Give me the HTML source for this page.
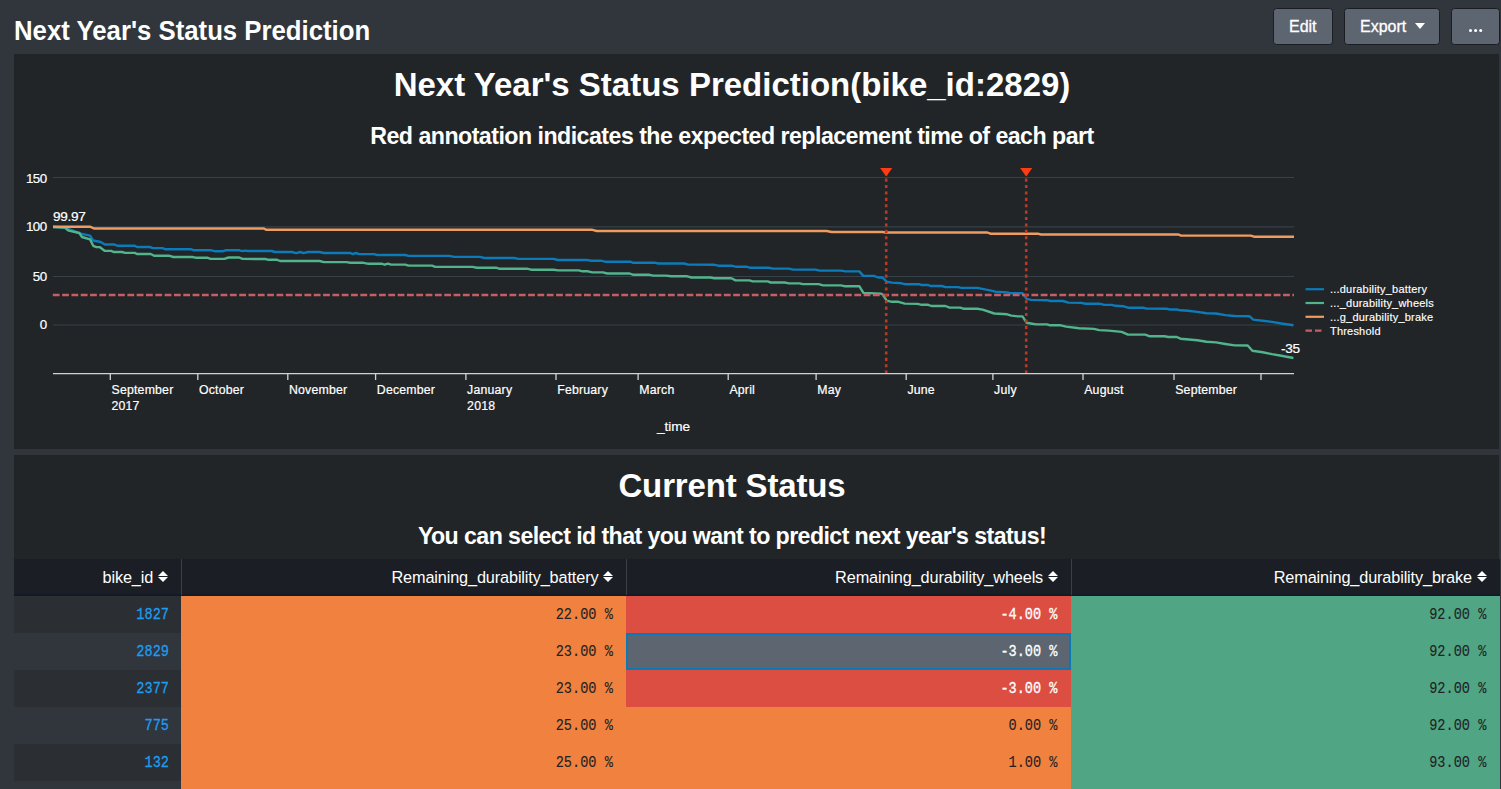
<!DOCTYPE html>
<html><head><meta charset="utf-8">
<style>
*{margin:0;padding:0;box-sizing:border-box}
html,body{width:1501px;height:789px;overflow:hidden;background:#31353c;font-family:"Liberation Sans",sans-serif;color:#fff}
body{position:relative}
.abs{position:absolute;white-space:nowrap}
#htitle{left:13.8px;top:16px;font-size:27.2px;font-weight:bold;line-height:30px;transform:scaleX(0.947);transform-origin:0 0}
.btn{position:absolute;top:8px;height:36.5px;background:#5d6570;border:1.3px solid #1a1e23;border-radius:3.5px;color:#fff;font-size:16px;line-height:35.5px;text-align:center;-webkit-text-stroke:0.3px #fff}
.panel{position:absolute;left:14px;width:1485px;background:#212527}
#p1{top:54px;height:395px}
#p2{top:455px;height:334px}
.ctitle{position:absolute;font-weight:bold;text-align:center;left:0;width:1464px}
.th{font-size:16.3px;line-height:36px;color:#fff;letter-spacing:-0.14px}
.sort{display:inline-block;width:10.4px;height:12px;margin-left:5px;vertical-align:0.5px;position:relative}
.sort:before{content:"";position:absolute;left:0;top:0;border-left:5.2px solid transparent;border-right:5.2px solid transparent;border-bottom:5.3px solid #fff}
.sort:after{content:"";position:absolute;left:0;top:6.6px;border-left:5.2px solid transparent;border-right:5.2px solid transparent;border-top:5.3px solid #fff}
.td{line-height:37px;font-size:13.6px;transform:scaleY(1.17);transform-origin:50% 62%}
.id{font-family:"Liberation Mono",monospace;color:#1e9cf0;-webkit-text-stroke:0.25px currentColor}
.mono{font-family:"Liberation Mono",monospace;-webkit-text-stroke:0.25px currentColor}
</style></head>
<body>
<div id="htitle" class="abs">Next Year's Status Prediction</div>
<div class="btn" style="left:1272.5px;width:60.5px">Edit</div>
<div class="btn" style="left:1344.3px;width:96px">Export <span style="display:inline-block;width:0;height:0;border-left:5px solid transparent;border-right:5px solid transparent;border-top:6px solid #fff;vertical-align:middle;margin-left:4px;margin-top:-3px"></span></div>
<div class="btn" style="left:1451px;width:48.5px"><span style="position:absolute;left:16.8px;top:20.4px;width:3.1px;height:3.1px;border-radius:50%;background:#fff;box-shadow:5.1px 0 0 #fff,10.2px 0 0 #fff"></span></div>

<div class="panel" id="p1"></div>
<div class="panel" id="p2"></div>

<div class="ctitle abs" id="t1" style="top:66px;font-size:33px;line-height:38px">Next Year's Status Prediction(bike_id:2829)</div>
<div class="ctitle abs" id="t2" style="top:122.8px;font-size:23.2px;line-height:26px;letter-spacing:-0.53px">Red annotation indicates the expected replacement time of each part</div>
<div class="ctitle abs" id="t3" style="top:467px;font-size:33px;line-height:38px;letter-spacing:-0.15px">Current Status</div>
<div class="ctitle abs" id="t4" style="top:522.8px;font-size:23.2px;line-height:26px;letter-spacing:-0.59px">You can select id that you want to predict next year's status!</div>
<svg class="abs" style="left:0;top:0" width="1501" height="789" font-family="Liberation Sans, sans-serif">
<line x1="53" y1="177.5" x2="1294" y2="177.5" stroke="#35424a" stroke-width="1.2"/>
<line x1="53" y1="226.8" x2="1294" y2="226.8" stroke="#35424a" stroke-width="1.2"/>
<line x1="53" y1="276.5" x2="1294" y2="276.5" stroke="#35424a" stroke-width="1.2"/>
<line x1="53" y1="325" x2="1294" y2="325" stroke="#35424a" stroke-width="1.2"/>
<line x1="53" y1="373.7" x2="1294" y2="373.7" stroke="#cfd3d7" stroke-width="1.3"/>
<line x1="110.3" y1="373.7" x2="110.3" y2="380" stroke="#cfd3d7" stroke-width="1.3"/>
<line x1="197.8" y1="373.7" x2="197.8" y2="380" stroke="#cfd3d7" stroke-width="1.3"/>
<line x1="287.8" y1="373.7" x2="287.8" y2="380" stroke="#cfd3d7" stroke-width="1.3"/>
<line x1="375.6" y1="373.7" x2="375.6" y2="380" stroke="#cfd3d7" stroke-width="1.3"/>
<line x1="465.9" y1="373.7" x2="465.9" y2="380" stroke="#cfd3d7" stroke-width="1.3"/>
<line x1="556" y1="373.7" x2="556" y2="380" stroke="#cfd3d7" stroke-width="1.3"/>
<line x1="638.1" y1="373.7" x2="638.1" y2="380" stroke="#cfd3d7" stroke-width="1.3"/>
<line x1="728.2" y1="373.7" x2="728.2" y2="380" stroke="#cfd3d7" stroke-width="1.3"/>
<line x1="816.1" y1="373.7" x2="816.1" y2="380" stroke="#cfd3d7" stroke-width="1.3"/>
<line x1="906.2" y1="373.7" x2="906.2" y2="380" stroke="#cfd3d7" stroke-width="1.3"/>
<line x1="992.9" y1="373.7" x2="992.9" y2="380" stroke="#cfd3d7" stroke-width="1.3"/>
<line x1="1083" y1="373.7" x2="1083" y2="380" stroke="#cfd3d7" stroke-width="1.3"/>
<line x1="1174" y1="373.7" x2="1174" y2="380" stroke="#cfd3d7" stroke-width="1.3"/>
<line x1="1261" y1="373.7" x2="1261" y2="380" stroke="#cfd3d7" stroke-width="1.3"/>
<text x="46.6" y="182.6" text-anchor="end" font-size="13.3" fill="#fff" stroke="#fff" stroke-width="0.2" letter-spacing="-0.5">150</text>
<text x="46.6" y="230.9" text-anchor="end" font-size="13.3" fill="#fff" stroke="#fff" stroke-width="0.2" letter-spacing="-0.5">100</text>
<text x="46.6" y="280.7" text-anchor="end" font-size="13.3" fill="#fff" stroke="#fff" stroke-width="0.2" letter-spacing="-0.5">50</text>
<text x="46.6" y="329.09999999999997" text-anchor="end" font-size="13.3" fill="#fff" stroke="#fff" stroke-width="0.2" letter-spacing="-0.5">0</text>
<text x="111.5" y="394" font-size="12.3" fill="#fff" stroke="#fff" stroke-width="0.2" letter-spacing="0.2">September</text>
<text x="111.5" y="410.4" font-size="12.3" fill="#fff" stroke="#fff" stroke-width="0.2" letter-spacing="0.2">2017</text>
<text x="199.0" y="394" font-size="12.3" fill="#fff" stroke="#fff" stroke-width="0.2" letter-spacing="0.2">October</text>
<text x="289.0" y="394" font-size="12.3" fill="#fff" stroke="#fff" stroke-width="0.2" letter-spacing="0.2">November</text>
<text x="376.8" y="394" font-size="12.3" fill="#fff" stroke="#fff" stroke-width="0.2" letter-spacing="0.2">December</text>
<text x="467.09999999999997" y="394" font-size="12.3" fill="#fff" stroke="#fff" stroke-width="0.2" letter-spacing="0.2">January</text>
<text x="467.09999999999997" y="410.4" font-size="12.3" fill="#fff" stroke="#fff" stroke-width="0.2" letter-spacing="0.2">2018</text>
<text x="557.2" y="394" font-size="12.3" fill="#fff" stroke="#fff" stroke-width="0.2" letter-spacing="0.2">February</text>
<text x="639.3000000000001" y="394" font-size="12.3" fill="#fff" stroke="#fff" stroke-width="0.2" letter-spacing="0.2">March</text>
<text x="729.4000000000001" y="394" font-size="12.3" fill="#fff" stroke="#fff" stroke-width="0.2" letter-spacing="0.2">April</text>
<text x="817.3000000000001" y="394" font-size="12.3" fill="#fff" stroke="#fff" stroke-width="0.2" letter-spacing="0.2">May</text>
<text x="907.4000000000001" y="394" font-size="12.3" fill="#fff" stroke="#fff" stroke-width="0.2" letter-spacing="0.2">June</text>
<text x="994.1" y="394" font-size="12.3" fill="#fff" stroke="#fff" stroke-width="0.2" letter-spacing="0.2">July</text>
<text x="1084.2" y="394" font-size="12.3" fill="#fff" stroke="#fff" stroke-width="0.2" letter-spacing="0.2">August</text>
<text x="1175.2" y="394" font-size="12.3" fill="#fff" stroke="#fff" stroke-width="0.2" letter-spacing="0.2">September</text>
<text x="673.5" y="431.2" text-anchor="middle" font-size="13.6" fill="#fff" stroke="#fff" stroke-width="0.2">_time</text>
<polyline points="53,227 64.7,227.5 80.7,233.7 90,235.7 93.2,240.5 100.7,242 104.9,244.5 114.5,244.5 117.7,245.8 134.8,245.8 136.9,247 149.7,247 152.9,248.1 162.5,248.1 165.7,249.3 191.3,249.3 193.4,250.2 210.5,250.2 214.7,251.2 223.3,251.2 225.4,250.3 239.3,250.3 242.5,251.1 244.6,250.6 248.2,251 271.7,251 274.9,252 291.9,252 296.2,253.1 300.4,252 303.6,253.1 307.9,252 319.6,252 323.9,253 350.5,253 352.7,254.1 355.9,253 359.1,254.1 374,254.1 377.2,255 405.3,255 408.5,255.9 449,255.9 454.4,256.9 480,256.9 484.2,258 514.1,258 518.3,258.9 553.5,258.9 557.8,260 587,260 591.2,260.7 600.8,260.7 605.1,261.7 630.7,261.7 632.8,262.8 655.2,262.8 658.4,263.5 684,263.5 688.3,264.6 714.3,264.8 718.5,265.7 731.3,265.7 735.6,266.7 746.2,266.7 750.5,267.8 768.6,267.8 772.9,268.6 788.9,268.6 793.2,269.6 815.5,269.6 819.8,270.6 841.1,270.6 845.4,271.4 859.3,271.4 863.3,275.9 873.9,275.9 878.1,277.5 882.4,277.5 886.7,281.7 892,282.6 901.6,283.3 904.8,284.2 918.6,284.2 921.8,285 928.2,285 930.4,286 942.1,286 945.3,287.1 958.1,287.1 961.3,287.9 977.3,287.9 991.1,290.6 995.4,291.7 1007.1,292.4 1011.4,293.3 1022.5,293.2 1026.7,298.9 1031,299.9 1047,300.2 1050.2,301 1063,301 1068.3,302.6 1081.1,302.9 1085.4,303.7 1099.2,303.7 1103.5,304.7 1112,304.9 1115.2,305.8 1123.7,306.3 1128,307.7 1142.9,307.7 1146.1,308.5 1166.4,308.7 1169.6,309.5 1176.8,309.5 1180.5,310.3 1188,310.7 1197.3,311.9 1206.6,313.2 1216,313.5 1225.3,315.1 1234.6,316 1249.6,316.3 1253.3,319.6 1262.6,320.7 1271.9,321.9 1281.3,323.5 1293.4,325.2" fill="none" stroke="#0b7bba" stroke-width="2.4" stroke-linejoin="round"/>
<polyline points="53,227 64.7,227.5 68.7,230.7 79.3,233 82,237 90,239.3 93.2,245.8 96.4,247.1 99.6,247.1 104.9,250.9 111.3,250.9 113.5,252 122,252 125.2,252.9 134.8,252.9 136.9,254 150.8,254 154,255.7 168.9,255.7 173.2,257 192.3,257 195.5,257.7 207.3,257.7 210.5,258.9 224.3,258.9 228.6,257.5 239.3,257.5 242.5,258.9 265.3,259 268.5,259.8 277,259.8 280.2,261 319.6,261 323.9,262.1 346.3,262.1 350.5,262.8 363.3,262.8 367.6,263.7 381.5,263.7 384.7,264.7 387.9,263.7 391.1,264.6 405.3,264.6 408.5,265.6 432,265.6 435.2,266.9 472.5,266.9 476.8,267.7 496,267.7 499.1,268.7 526.9,268.7 531.1,269.7 553.5,269.7 558.2,270.4 578.5,270.4 582.7,271.3 588,271.3 592.3,272.4 603,272.4 607.2,273.5 629.6,273.5 632.8,274.7 648.8,274.7 653.1,275.6 665.9,275.6 671.2,276.3 687.2,276.3 691.5,277.5 710.6,277.5 714.3,278.2 731.3,278.2 735.6,280.4 749.4,280.4 752.6,281.4 767.6,281.4 770.8,282.5 784.6,282.5 788.9,283.4 799.6,283.4 802.8,284.1 818.7,284.1 823,285.4 841.1,285.4 844.3,286.2 859.3,286.2 863.4,292.9 881.3,293.6 882.9,294.9 886.7,300.7 892,301.8 898.4,301.8 904.8,303.6 917.6,303.9 921.8,304.8 928.2,304.8 931.4,306 945.3,306 949.6,307.6 960.2,307.6 963.4,308.7 977.3,308.7 982.6,309.6 994.3,313.5 1007.1,314.3 1011.4,315.6 1018.2,316.4 1022.5,316.4 1026.7,322.8 1032.1,323.7 1036.3,324.4 1047,324.4 1050.2,325.3 1060.8,325.3 1066.2,326.6 1079,328.2 1093.9,328.9 1099.2,330.1 1108.8,330.6 1121.6,331.9 1128,334.6 1145.1,334.6 1149.3,336.2 1164.3,336.2 1168.5,337 1176.8,337 1180.5,338.7 1197.3,340.3 1206.6,341.8 1216,342.4 1225.3,344 1234.6,345.4 1247.7,345.5 1252.4,350.8 1262.6,352.2 1271.9,354.1 1281.3,355.8 1293.4,358" fill="none" stroke="#52b48c" stroke-width="2.4" stroke-linejoin="round"/>
<polyline points="53,226.7 90,226.7 94,228.5 264,228.5 266,229.7 591.7,229.7 596.7,231 826.7,231 831.7,232 882.5,232 886,232.5 987.4,232.5 990.4,233.7 1037.6,233.7 1041,234.5 1178.5,234.5 1181,235.6 1250.8,235.6 1254,236.7 1294,236.7" fill="none" stroke="#f09b5f" stroke-width="2.4" stroke-linejoin="round"/>
<line x1="52.8" y1="295" x2="1294" y2="295" stroke="#c55e65" stroke-width="2.3" stroke-dasharray="6.8,2.52"/>
<line x1="886.2" y1="172.2" x2="886.2" y2="373" stroke="#bd3820" stroke-width="2.6" stroke-dasharray="3.1,3.3"/>
<path d="M880.1,168.1 L892.3000000000001,168.1 L886.2,176.4 Z" fill="#ff3b12"/>
<line x1="1026.2" y1="172.2" x2="1026.2" y2="373" stroke="#bd3820" stroke-width="2.6" stroke-dasharray="3.1,3.3"/>
<path d="M1020.1,168.1 L1032.3,168.1 L1026.2,176.4 Z" fill="#ff3b12"/>
<text x="53" y="221" font-size="13.6" fill="#fff" stroke="#fff" stroke-width="0.2" letter-spacing="-0.3">99.97</text>
<text x="1281" y="352.6" font-size="13.6" fill="#fff" stroke="#fff" stroke-width="0.2" letter-spacing="-0.3">-35</text>
<line x1="1305.5" y1="289.2" x2="1324" y2="289.2" stroke="#0b7bba" stroke-width="2.2"/>
<text x="1330" y="293.2" font-size="11" fill="#fff" stroke="#fff" stroke-width="0.15" letter-spacing="0.2">...durability_battery</text>
<line x1="1305.5" y1="303.0" x2="1324" y2="303.0" stroke="#52b48c" stroke-width="2.2"/>
<text x="1330" y="307.0" font-size="11" fill="#fff" stroke="#fff" stroke-width="0.15" letter-spacing="0.2">..._durability_wheels</text>
<line x1="1305.5" y1="316.8" x2="1324" y2="316.8" stroke="#f09b5f" stroke-width="2.2"/>
<text x="1330" y="320.8" font-size="11" fill="#fff" stroke="#fff" stroke-width="0.15" letter-spacing="0.2">...g_durability_brake</text>
<line x1="1305.5" y1="330.6" x2="1324" y2="330.6" stroke="#c55e65" stroke-width="2.2" stroke-dasharray="6.5,3"/>
<text x="1330" y="334.6" font-size="11" fill="#fff" stroke="#fff" stroke-width="0.15" letter-spacing="0.2">Threshold</text>
</svg>
<div class="abs" style="left:14px;top:559px;width:1485.8px;height:37px;background:#1b1e24;border-bottom:2px solid #121a25"></div>
<div class="abs th" style="right:1332.5px;top:559px">bike_id<span class="sort"></span></div>
<div class="abs" style="left:181px;top:559px;width:1px;height:36px;background:#3a4047"></div>
<div class="abs th" style="right:887.2px;top:559px">Remaining_durability_battery<span class="sort"></span></div>
<div class="abs" style="left:626.3px;top:559px;width:1px;height:36px;background:#3a4047"></div>
<div class="abs th" style="right:442.5px;top:559px">Remaining_durability_wheels<span class="sort"></span></div>
<div class="abs" style="left:1071px;top:559px;width:1px;height:36px;background:#3a4047"></div>
<div class="abs th" style="right:13.700000000000045px;top:559px">Remaining_durability_brake<span class="sort"></span></div>
<div class="abs" style="left:14px;top:596px;width:167px;height:37px;background:#2b2f33"></div>
<div class="abs td id" style="right:1332px;top:597.1px">1827</div>
<div class="abs" style="left:181px;top:596px;width:445.29999999999995px;height:37px;background:#f1813f"></div>
<div class="abs td mono" style="right:888.2px;top:597.1px;color:#222;-webkit-text-stroke:0.1px #222">22.00 %</div>
<div class="abs" style="left:626.3px;top:596px;width:444.70000000000005px;height:37px;background:#dc4e41"></div>
<div class="abs td mono" style="right:443.5px;top:597.1px;color:#fff">-4.00 %</div>
<div class="abs" style="left:1071px;top:596px;width:428.79999999999995px;height:37px;background:#50a584"></div>
<div class="abs td mono" style="right:14.700000000000045px;top:597.1px;color:#222;-webkit-text-stroke:0.1px #222">92.00 %</div>
<div class="abs" style="left:14px;top:633px;width:167px;height:37px;background:#31353c"></div>
<div class="abs td id" style="right:1332px;top:634.1px">2829</div>
<div class="abs" style="left:181px;top:633px;width:445.29999999999995px;height:37px;background:#f1813f"></div>
<div class="abs td mono" style="right:888.2px;top:634.1px;color:#222;-webkit-text-stroke:0.1px #222">23.00 %</div>
<div class="abs" style="left:626.3px;top:633px;width:444.70000000000005px;height:37px;background:#5c6570;border:2px solid #0b78b8"></div>
<div class="abs td mono" style="right:443.5px;top:634.1px;color:#fff">-3.00 %</div>
<div class="abs" style="left:1071px;top:633px;width:428.79999999999995px;height:37px;background:#50a584"></div>
<div class="abs td mono" style="right:14.700000000000045px;top:634.1px;color:#222;-webkit-text-stroke:0.1px #222">92.00 %</div>
<div class="abs" style="left:14px;top:670px;width:167px;height:37px;background:#2b2f33"></div>
<div class="abs td id" style="right:1332px;top:671.1px">2377</div>
<div class="abs" style="left:181px;top:670px;width:445.29999999999995px;height:37px;background:#f1813f"></div>
<div class="abs td mono" style="right:888.2px;top:671.1px;color:#222;-webkit-text-stroke:0.1px #222">23.00 %</div>
<div class="abs" style="left:626.3px;top:670px;width:444.70000000000005px;height:37px;background:#dc4e41"></div>
<div class="abs td mono" style="right:443.5px;top:671.1px;color:#fff">-3.00 %</div>
<div class="abs" style="left:1071px;top:670px;width:428.79999999999995px;height:37px;background:#50a584"></div>
<div class="abs td mono" style="right:14.700000000000045px;top:671.1px;color:#222;-webkit-text-stroke:0.1px #222">92.00 %</div>
<div class="abs" style="left:14px;top:707px;width:167px;height:37px;background:#31353c"></div>
<div class="abs td id" style="right:1332px;top:708.1px">775</div>
<div class="abs" style="left:181px;top:707px;width:445.29999999999995px;height:37px;background:#f1813f"></div>
<div class="abs td mono" style="right:888.2px;top:708.1px;color:#222;-webkit-text-stroke:0.1px #222">25.00 %</div>
<div class="abs" style="left:626.3px;top:707px;width:444.70000000000005px;height:37px;background:#f1813f"></div>
<div class="abs td mono" style="right:443.5px;top:708.1px;color:#222;-webkit-text-stroke:0.1px #222">0.00 %</div>
<div class="abs" style="left:1071px;top:707px;width:428.79999999999995px;height:37px;background:#50a584"></div>
<div class="abs td mono" style="right:14.700000000000045px;top:708.1px;color:#222;-webkit-text-stroke:0.1px #222">92.00 %</div>
<div class="abs" style="left:14px;top:744px;width:167px;height:37px;background:#2b2f33"></div>
<div class="abs td id" style="right:1332px;top:745.1px">132</div>
<div class="abs" style="left:181px;top:744px;width:445.29999999999995px;height:37px;background:#f1813f"></div>
<div class="abs td mono" style="right:888.2px;top:745.1px;color:#222;-webkit-text-stroke:0.1px #222">25.00 %</div>
<div class="abs" style="left:626.3px;top:744px;width:444.70000000000005px;height:37px;background:#f1813f"></div>
<div class="abs td mono" style="right:443.5px;top:745.1px;color:#222;-webkit-text-stroke:0.1px #222">1.00 %</div>
<div class="abs" style="left:1071px;top:744px;width:428.79999999999995px;height:37px;background:#50a584"></div>
<div class="abs td mono" style="right:14.700000000000045px;top:745.1px;color:#222;-webkit-text-stroke:0.1px #222">93.00 %</div>
<div class="abs" style="left:14px;top:781px;width:167px;height:37px;background:#31353c"></div>
<div class="abs" style="left:181px;top:781px;width:445.29999999999995px;height:37px;background:#f1813f"></div>
<div class="abs" style="left:626.3px;top:781px;width:444.70000000000005px;height:37px;background:#f1813f"></div>
<div class="abs" style="left:1071px;top:781px;width:428.79999999999995px;height:37px;background:#50a584"></div>
</body></html>
